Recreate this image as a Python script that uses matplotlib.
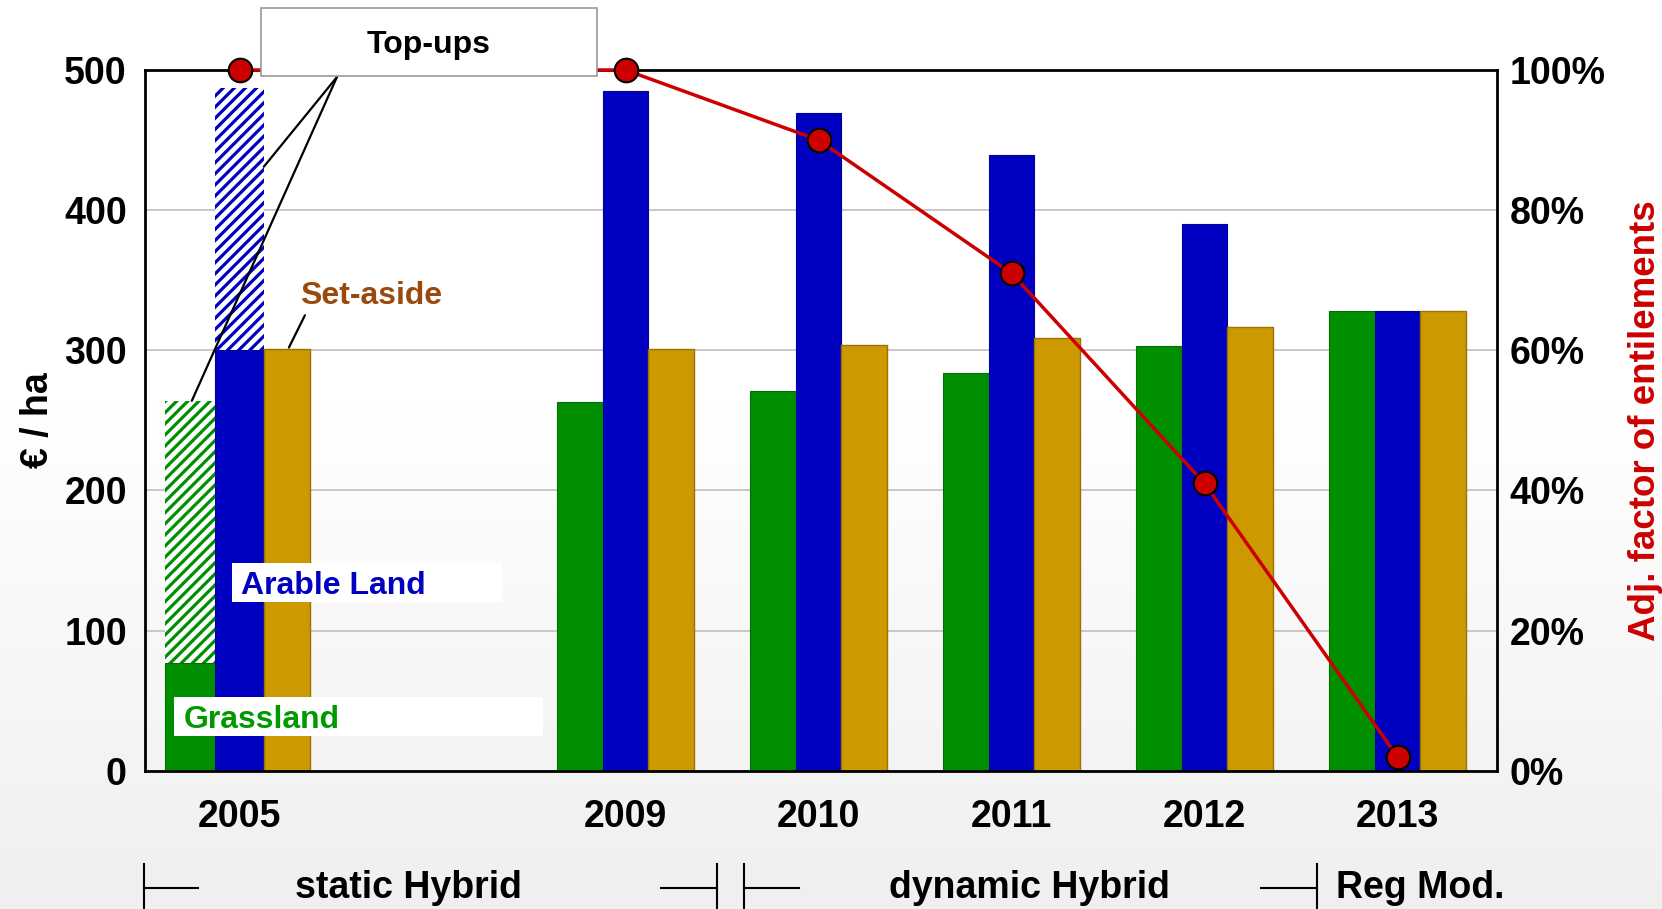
import matplotlib
matplotlib.use("Agg")
import matplotlib.pyplot as plt
import numpy as np
from matplotlib.patches import Rectangle
from matplotlib.lines import Line2D
from matplotlib.ticker import FuncFormatter

plt.rcParams.update({
    "font.family": ["Liberation Sans", "DejaVu Sans"],
    "font.weight": "bold",
    "hatch.linewidth": 2.3,
})

GREEN, BLUE, GOLD, RED = "#008f00", "#0000c0", "#cc9900", "#cc0000"
BROWN = "#9a4a0c"

# data
years = ["2005", "2009", "2010", "2011", "2012", "2013"]
xpos = [0, 2, 3, 4, 5, 6]
grassland = [77, 263, 271, 284, 303, 328]
grass_topup = [187, 0, 0, 0, 0, 0]
arable = [300, 485, 469, 439, 390, 328]
arable_topup = [187, 0, 0, 0, 0, 0]
setaside = [301, 301, 304, 309, 317, 328]
adj_factor = [100, 100, 90, 71, 41, 2]

fig = plt.figure(figsize=(16.62, 9.09), dpi=100)

# slide background gradient
bg = fig.add_axes([0, 0, 1, 1], zorder=-10)
grad = np.concatenate([np.ones(40), np.linspace(1, 0.935, 60)])[:, None]
bg.imshow(grad, aspect="auto", cmap="gray", vmin=0, vmax=1, extent=[0, 1, 0, 1])
bg.axis("off")

ax = fig.add_axes([0.0872, 0.152, 0.8135, 0.771])
ax.set_facecolor("none")

x = np.array(xpos, dtype=float)
wb = np.array([0.258 if y == "2005" else 0.236 for y in years])
wg = 0.236

ax.bar(x - wb / 2 - wb, grassland, wb, align="edge", color=GREEN, edgecolor="#007000", lw=0.8, zorder=2)
ax.bar(x - wb / 2 - wb, grass_topup, wb, bottom=grassland, align="edge", facecolor="white",
       edgecolor=GREEN, hatch="///", lw=0, zorder=2)
ax.bar(x - wb / 2, arable, wb, align="edge", color=BLUE, edgecolor="#00009a", lw=0.8, zorder=2)
ax.bar(x - wb / 2, arable_topup, wb, bottom=arable, align="edge", facecolor="white",
       edgecolor=BLUE, hatch="///", lw=0, zorder=2)
ax.bar(x + wb / 2, setaside, wg, align="edge", color=GOLD, edgecolor="#9a7300", lw=1, zorder=2)

ax.set_xlim(-0.49, 6.515)
ax.set_ylim(0, 500)
ax.set_yticks(range(0, 501, 100))
ax.yaxis.grid(True, color="#c4c4c4", lw=1.3)
ax.set_axisbelow(True)
ax.set_xticks(xpos, years)
ax.tick_params(axis="x", length=0, pad=20, labelsize=27)
ax.tick_params(axis="y", length=0, pad=13, labelsize=27)
for s in ax.spines.values():
    s.set_linewidth(2)
ax.set_ylabel("€ / ha", fontsize=27, fontweight="bold", labelpad=6)

ax2 = ax.twinx()
ax2.plot(xpos, adj_factor, "-o", color=RED, lw=2.5, ms=17, mfc=RED, mec="black", mew=1.5,
         clip_on=False, zorder=5)
ax2.set_ylim(0, 100)
ax2.set_yticks(range(0, 101, 20))
ax2.yaxis.set_major_formatter(FuncFormatter(lambda v, p: f"{v:.0f}%"))
ax2.tick_params(axis="y", length=0, pad=9, labelsize=27)
ax2.set_ylabel("Adj. factor of entilements", fontsize=26.5, fontweight="bold", color=RED, labelpad=16)
for s in ax2.spines.values():
    s.set_visible(False)

# leader lines
for tip in [(0.126, 431), (-0.247, 264)]:
    ax.annotate("", xy=tip, xytext=(0.505, 495), annotation_clip=False,
                arrowprops=dict(arrowstyle="-", color="black", lw=1.6, shrinkA=0, shrinkB=0), zorder=6)
ax.annotate("", xy=(0.256, 302), xytext=(0.339, 325),
            arrowprops=dict(arrowstyle="-", color="black", lw=1.6, shrinkA=0, shrinkB=0), zorder=6)
ax.text(0.68, 339, "Set-aside", color=BROWN, fontsize=23, fontweight="bold", ha="center", va="center", zorder=6)

# label boxes
fig.add_artist(Rectangle((0.157, 0.9164), 0.2022, 0.0748, transform=fig.transFigure,
                         facecolor="white", edgecolor="#999999", lw=1.2, zorder=20))
fig.text(0.2581, 0.9500, "Top-ups", fontsize=23, fontweight="bold", ha="center", va="center", zorder=21)
fig.add_artist(Rectangle((0.1396, 0.3377), 0.1625, 0.0429, transform=fig.transFigure,
                         facecolor="white", edgecolor="none", zorder=20))
fig.text(0.145, 0.3555, "Arable Land", color=BLUE, fontsize=23, fontweight="bold", ha="left",
         va="center", zorder=21)
fig.add_artist(Rectangle((0.1047, 0.1903), 0.222, 0.0429, transform=fig.transFigure,
                         facecolor="white", edgecolor="none", zorder=20))
fig.text(0.1107, 0.2080, "Grassland", color="#009900", fontsize=23, fontweight="bold", ha="left",
         va="center", zorder=21)

# phase annotations below
ybot = 0.0231
for xv in [144, 717, 744, 1317]:
    fig.add_artist(Line2D([xv / 1662] * 2, [0, 0.0495], color="black", lw=1.5))
for x0, x1 in [(144, 198), (661, 717), (744, 799), (1261, 1317)]:
    fig.add_artist(Line2D([x0 / 1662, x1 / 1662], [ybot] * 2, color="black", lw=1.5))
fig.text(408 / 1662, ybot, "static Hybrid", fontsize=27, fontweight="bold", ha="center", va="center")
fig.text(1029 / 1662, ybot, "dynamic Hybrid", fontsize=27, fontweight="bold", ha="center", va="center")
fig.text(1420 / 1662, ybot, "Reg Mod.", fontsize=27, fontweight="bold", ha="center", va="center")

fig.savefig("out.png", dpi=100)
